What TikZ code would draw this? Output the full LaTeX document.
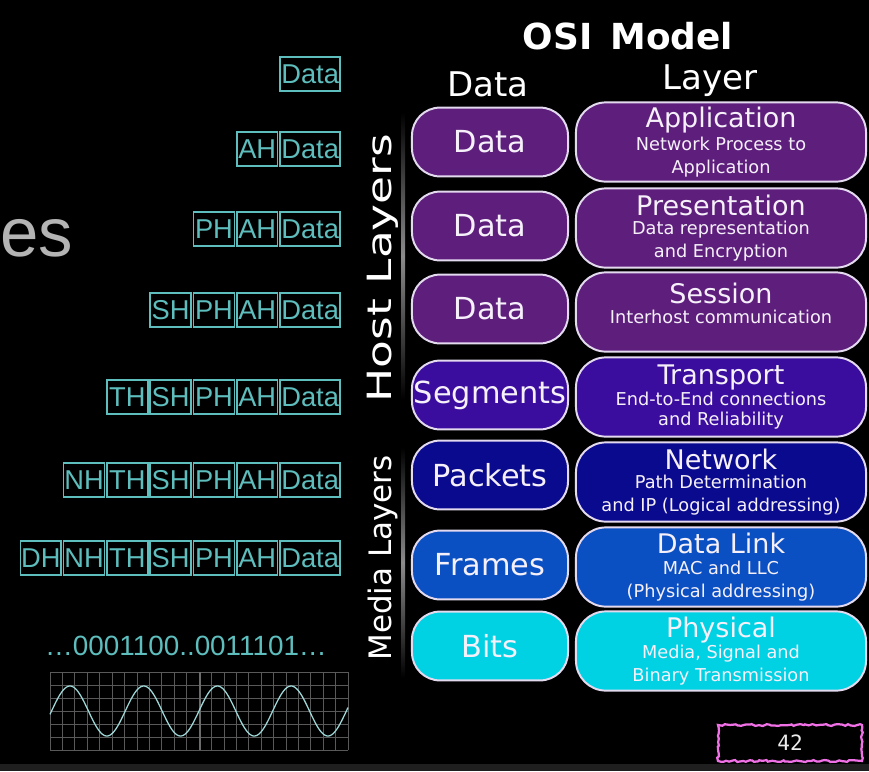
\documentclass[tikz,border=0pt]{standalone}
\usepackage{fontspec}
\setmainfont{DejaVu Sans}
\newfontfamily\pktfont{Liberation Sans}
\newfontfamily\pgnumfont{DejaVu Sans Mono}
\usetikzlibrary{positioning, decorations.pathmorphing}
\definecolor{lilaOSI}{HTML}{5E1F7C}
\definecolor{indigoOSI}{HTML}{3A0D9E}
\definecolor{navyOSI}{HTML}{0A0A8E}
\definecolor{azulOSI}{HTML}{0B50C2}
\definecolor{cianOSI}{HTML}{00D2E4}
\definecolor{bordeOSI}{HTML}{E4DAF0}
\definecolor{textoOSI}{HTML}{F6F0FA}
\definecolor{tealPkt}{HTML}{5EBDBD}
\definecolor{grisEs}{HTML}{B4B4B4}
\definecolor{rosaPag}{HTML}{F070E6}
\newcommand{\lytitle}{\fontsize{19.2}{20}\selectfont}

\begin{document}
\begin{tikzpicture}[
        x=0.025cm, y=-0.025cm,
        node distance=0.02cm,
        pdu/.style={draw=bordeOSI, line width=1.4pt, rounded corners=0.7cm, inner sep=1pt,
            minimum width=3.9cm, minimum height=1.72cm, text=textoOSI,
            font=\fontsize{21.6}{24}\selectfont},
        layer/.style={draw=bordeOSI, line width=1.4pt, rounded corners=0.75cm, inner sep=0pt,
            minimum width=7.25cm, minimum height=1.98cm, text=textoOSI, align=center,
            font=\fontsize{12.6}{16.4}\selectfont},
        hdr/.style={draw=tealPkt, text=tealPkt, line width=1.2pt, inner sep=0pt,
            minimum width=1.02cm, minimum height=0.85cm, font=\pktfont\fontsize{19.4}{20}\selectfont},
        payload/.style={hdr, minimum width=1.5cm, anchor=east},
        colhead/.style={anchor=base, text=white, font=\fontsize{24.2}{26}\selectfont},
        side/.style={rotate=90, text=white, font=\fontsize{22}{24}\selectfont},
        gridln/.style={draw=black!65!white, line width=0.5pt},
        pagebox/.style={draw=rosaPag, line width=1.6pt, fill=black, decorate,
            decoration={random steps, segment length=2pt, amplitude=0.7pt},
            minimum width=3.6cm, minimum height=0.9cm, text=black!8,
            font=\pgnumfont\fontsize{15}{16}\selectfont}
    ]
        \fill[black] (0,0) rectangle (869,771);
        \fill[black!88] (0,764) rectangle (869,771);

        % OSI table
        \node[anchor=base, text=white, font=\bfseries\fontsize{25.5}{27}\selectfont] (title) at (628,49) {OSI\enspace Model};
        \node[colhead] (colData) at (488,96) {Data};
        \node[colhead] (colLayer) at (710,89) {Layer};

        \node[pdu, fill=lilaOSI] (pdu7) at (490,142) {Data};
        \node[pdu, fill=lilaOSI] (pdu6) at (490,226) {Data};
        \node[pdu, fill=lilaOSI] (pdu5) at (490,309) {Data};
        \node[pdu, fill=indigoOSI] (pdu4) at (490,395) {Segments};
        \node[pdu, fill=navyOSI] (pdu3) at (490,475) {Packets};
        \node[pdu, fill=azulOSI] (pdu2) at (490,565) {Frames};
        \node[pdu, fill=cianOSI] (pdu1) at (490,646) {Bits};

        \node[layer, fill=lilaOSI] (lay7) at (721,142) {{\lytitle Application}\\Network Process to\\Application};
        \node[layer, fill=lilaOSI] (lay6) at (721,228) {{\lytitle Presentation}\\[-3pt]Data representation\\and Encryption};
        \node[layer, fill=lilaOSI, text depth=0.45cm] (lay5) at (721,312) {{\lytitle Session}\\[-2pt]Interhost communication};
        \node[layer, fill=indigoOSI] (lay4) at (721,397) {{\lytitle Transport}\\[-2pt]End-to-End connections\\[-2pt]and Reliability};
        \node[layer, fill=navyOSI] (lay3) at (721,482) {{\lytitle Network}\\[-3pt]Path Determination\\and IP (Logical addressing)};
        \node[layer, fill=azulOSI] (lay2) at (721,567) {{\lytitle Data Link}\\[-2pt]MAC and LLC\\(Physical addressing)};
        \node[layer, fill=cianOSI] (lay1) at (721,651) {{\lytitle Physical}\\[-2pt]Media, Signal and\\Binary Transmission};

        \node[side] (host) at (383,268) {\scalebox{1.47}[1.08]{Host Layers}};
        \node[side] (media) at (383,558) {Media Layers};
        \shade[top color=black, bottom color=black, middle color=black!45] (401,112) rectangle (405,400);
        \shade[top color=black, bottom color=black, middle color=black!45] (401,447) rectangle (405,678);

        % encapsulation
        \node[payload] (dat1) at (341,74) {Data};
        \node[payload] (dat2) at (341,149) {Data}; \node[hdr, left=of dat2] (ah2) {AH};
        \node[payload] (dat3) at (341,229) {Data}; \node[hdr, left=of dat3] (ah3) {AH}; \node[hdr, left=of ah3] (ph3) {PH};
        \node[payload] (dat4) at (341,310) {Data}; \node[hdr, left=of dat4] (ah4) {AH}; \node[hdr, left=of ah4] (ph4) {PH};
        \node[hdr, left=of ph4] (sh4) {SH};
        \node[payload] (dat5) at (341,397) {Data}; \node[hdr, left=of dat5] (ah5) {AH}; \node[hdr, left=of ah5] (ph5) {PH};
        \node[hdr, left=of ph5] (sh5) {SH}; \node[hdr, left=of sh5] (th5) {TH};
        \node[payload] (dat6) at (341,480) {Data}; \node[hdr, left=of dat6] (ah6) {AH}; \node[hdr, left=of ah6] (ph6) {PH};
        \node[hdr, left=of ph6] (sh6) {SH}; \node[hdr, left=of sh6] (th6) {TH}; \node[hdr, left=of th6] (nh6) {NH};
        \node[payload] (dat7) at (341,558) {Data}; \node[hdr, left=of dat7] (ah7) {AH}; \node[hdr, left=of ah7] (ph7) {PH};
        \node[hdr, left=of ph7] (sh7) {SH}; \node[hdr, left=of sh7] (th7) {TH}; \node[hdr, left=of th7] (nh7) {NH};
        \node[hdr, left=of nh7] (dh7) {DH};

        \node[anchor=base west, inner sep=0pt, text=grisEs, font=\pktfont\fontsize{49}{52}\selectfont] (es) at (0,256) {es};

        % bits and signal
        \node[anchor=base, text=tealPkt, font=\pktfont\fontsize{19.8}{21}\selectfont] (bits) at (186,655) {…0001100..0011101…};
        \foreach \gx in {0,...,24}
            \draw[gridln] ({50+\gx*12.42},672) -- ({50+\gx*12.42},750);
        \foreach \gy in {0,...,6}
            \draw[gridln] (50,{672+\gy*13}) -- (348,{672+\gy*13});
        \draw[black!58, line width=0.8pt] (200,672) -- (200,750);
        \draw[tealPkt!60!white, line width=0.9pt] plot[domain=50:348, samples=240]
            (\x, {711-25*cos((\x-70)/73.7*360)});

        \node[pagebox] (page) at (790,743) {42};
    \end{tikzpicture}
\end{document}
